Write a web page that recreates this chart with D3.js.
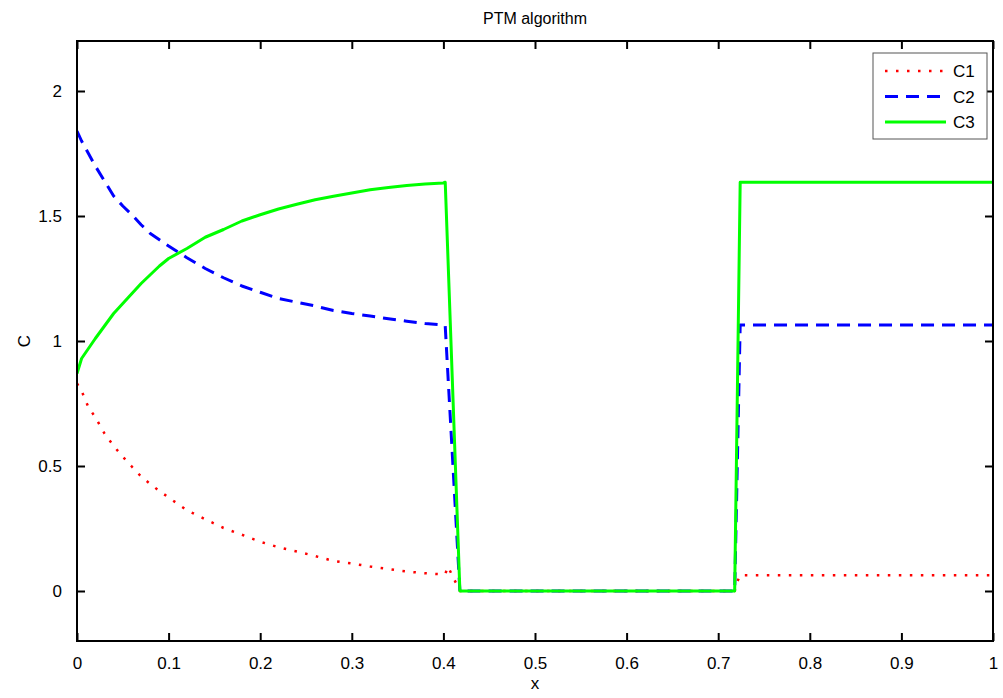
<!DOCTYPE html>
<html>
<head>
<meta charset="utf-8">
<script src="https://cdn.jsdelivr.net/npm/d3@7"></script>
<style>
  body { margin: 0; background: #fff; }
  text { font-family: "Liberation Sans", Arial, Helvetica, sans-serif; }
</style>
</head>
<body>
<svg id="svg" width="1003" height="698"></svg>
<script>
(function() {

    const svg = d3.select('#svg')
    const width = 1003, height = 698

    // values
    const xs = [0, 0.005, 0.0125, 0.02, 0.03, 0.04, 0.05, 0.06, 0.07, 0.08, 0.09, 0.1,
        0.12, 0.14, 0.16, 0.18, 0.2, 0.22, 0.24, 0.26, 0.28, 0.3, 0.32, 0.34, 0.36, 0.38,
        0.4, 0.402, 0.405, 0.418, 0.42, 0.718, 0.72, 0.724, 1]
    const c1 = [0.83, 0.80, 0.735, 0.695, 0.63, 0.58, 0.537, 0.497, 0.458, 0.428, 0.40, 0.374,
        0.323, 0.287, 0.252, 0.225, 0.197, 0.175, 0.158, 0.14, 0.12, 0.11, 0.098, 0.088, 0.078, 0.071,
        0.066, 0.068, 0.097, 0, 0, 0, 0.03, 0.063, 0.063]
    const c2 = [1.84, 1.80, 1.75, 1.70, 1.64, 1.58, 1.54, 1.505, 1.465, 1.43, 1.405, 1.38,
        1.333, 1.29, 1.253, 1.22, 1.195, 1.17, 1.155, 1.14, 1.122, 1.11, 1.10, 1.089, 1.079, 1.07,
        1.064, 1.06, 0.86, 0, 0, 0, 0.35, 1.064, 1.064]
    const c3 = [0.87, 0.93, 0.97, 1.01, 1.06, 1.11, 1.15, 1.19, 1.23, 1.265, 1.30, 1.33,
        1.37, 1.415, 1.446, 1.48, 1.505, 1.528, 1.547, 1.565, 1.579, 1.592, 1.605, 1.614, 1.622, 1.628,
        1.632, 1.635, 1.33, 0, 0, 0, 0.545, 1.635, 1.635]

    const xTicks = [0, 0.1, 0.2, 0.3, 0.4, 0.5, 0.6, 0.7, 0.8, 0.9, 1]
    const yTicks = [0, 0.5, 1, 1.5, 2]

    const seriesNames = ['C1', 'C2', 'C3']
    const seriesColors = ['#ff0000', '#0000ff', '#00ff00']
    const seriesDash = ['2.5,8.5', '13,8', null]
    const seriesWidth = [2.5, 3, 3]

    const x = d3.scaleLinear().domain([0, 1]).range([77, 993])
    const y = d3.scaleLinear().domain([-0.2, 2.2]).range([641, 41])

    // title and labels
    svg.append('text')
        .attr('x', (x(0) + x(1)) / 2)
        .attr('y', 24)
        .attr('text-anchor', 'middle')
        .style('font-size', '16px')
        .text('PTM algorithm')

    svg.append('text')
        .attr('x', (x(0) + x(1)) / 2)
        .attr('y', 689)
        .attr('text-anchor', 'middle')
        .style('font-size', '17px')
        .text('x')

    svg.append('text')
        .attr('transform', 'translate(30,' + y(1) + ') rotate(-90)')
        .attr('text-anchor', 'middle')
        .style('font-size', '17px')
        .text('C')

    // lines
    const data = [c1, c2, c3]
    svg.append('clipPath').attr('id', 'clip')
        .append('rect')
        .attr('x', x(0)).attr('y', y(2.2))
        .attr('width', x(1) - x(0)).attr('height', y(-0.2) - y(2.2))

    const line = d3.line()
        .x((d, i) => x(xs[i]))
        .y(d => y(d))

    svg.append('g')
        .attr('clip-path', 'url(#clip)')
        .selectAll('.series')
        .data(data)
        .enter()
        .append('path')
            .attr('d', d => line(d))
            .attr('fill', 'none')
            .attr('stroke', (d, i) => seriesColors[i])
            .attr('stroke-width', (d, i) => seriesWidth[i])
            .attr('stroke-dasharray', (d, i) => seriesDash[i])
            .attr('stroke-linejoin', 'round')

    // axes box, ticks on all four sides pointing inward
    const axes = svg.append('g')
    axes.append('rect')
        .attr('x', x(0)).attr('y', y(2.2))
        .attr('width', x(1) - x(0)).attr('height', y(-0.2) - y(2.2))
        .attr('fill', 'none')
        .attr('stroke', '#000')
        .attr('stroke-width', 2)

    axes.append('g')
        .attr('transform', 'translate(0,' + y(-0.2) + ')')
        .call(d3.axisBottom(x).tickValues(xTicks).tickSize(-8).tickPadding(16)
            .tickFormat(d => d3.format('~g')(d)))
    axes.append('g')
        .attr('transform', 'translate(0,' + y(2.2) + ')')
        .call(d3.axisTop(x).tickValues(xTicks).tickSize(-8).tickFormat(''))
    axes.append('g')
        .attr('transform', 'translate(' + x(0) + ',0)')
        .call(d3.axisLeft(y).tickValues(yTicks).tickSize(-8).tickPadding(15)
            .tickFormat(d => d3.format('~g')(d)))
    axes.append('g')
        .attr('transform', 'translate(' + x(1) + ',0)')
        .call(d3.axisRight(y).tickValues(yTicks).tickSize(-8).tickFormat(''))

    axes.selectAll('.domain').remove()
    axes.selectAll('.tick line').attr('stroke', '#000').attr('stroke-width', 2)
    axes.selectAll('.tick text')
        .style('font-size', '17px')
        .style('font-family', '"Liberation Sans", Arial, sans-serif')
        .attr('fill', '#000')

    // legend
    const legend = svg.append('g')
    legend.append('rect')
        .attr('x', 873).attr('y', 53)
        .attr('width', 114).attr('height', 86)
        .attr('fill', '#fff')
        .attr('stroke', '#555')
        .attr('stroke-width', 1)

    seriesNames.forEach((name, i) => {
        const ly = 71 + i * 25.5
        legend.append('line')
            .attr('x1', 885).attr('x2', 946)
            .attr('y1', ly).attr('y2', ly)
            .attr('stroke', seriesColors[i])
            .attr('stroke-width', seriesWidth[i])
            .attr('stroke-dasharray', seriesDash[i])
        legend.append('text')
            .attr('x', 953)
            .attr('y', ly + 6)
            .style('font-size', '17px')
            .text(name)
    })

})();
</script>
</body>
</html>
